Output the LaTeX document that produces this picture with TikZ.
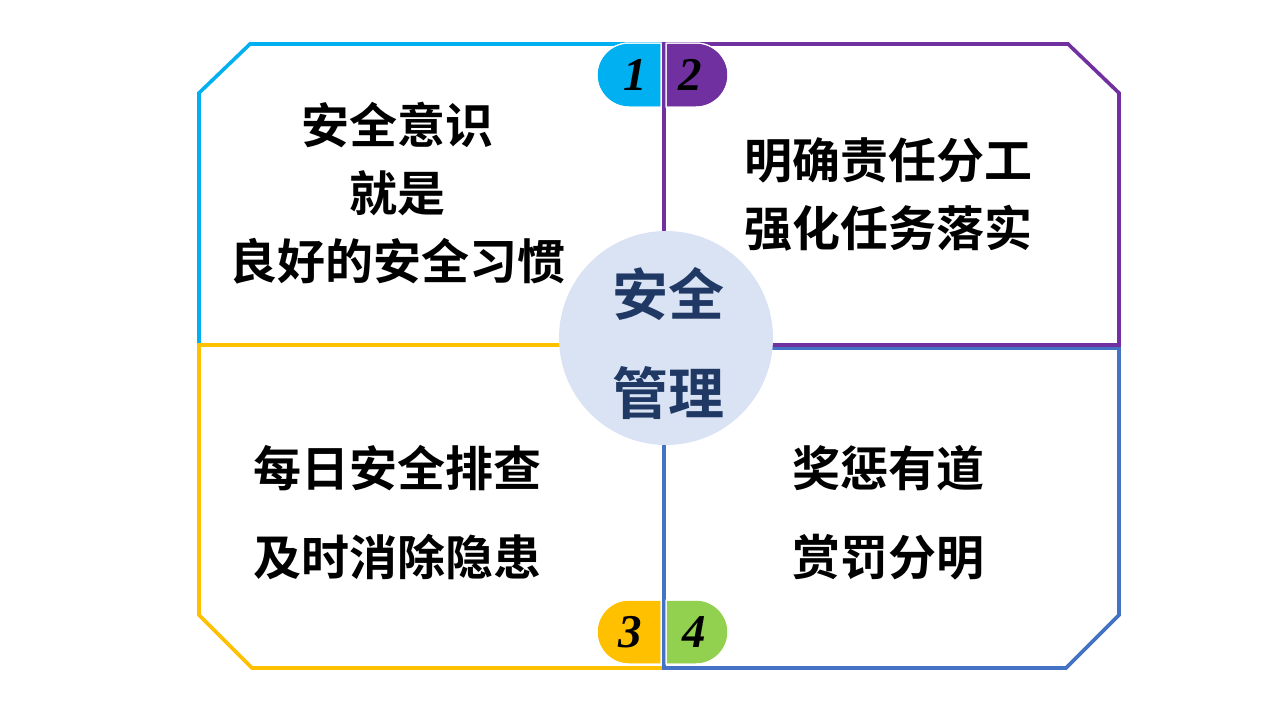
\documentclass[tikz,border=0pt]{standalone}
\usepackage{fontspec}
\newfontfamily\cjk{Noto Sans CJK SC}[BoldFont={Noto Sans CJK SC Bold}]
\newfontfamily\numfont{Liberation Serif}
\definecolor{qcyan}{HTML}{00B0F0}
\definecolor{qpurple}{HTML}{7030A0}
\definecolor{qgold}{HTML}{FFC000}
\definecolor{qblue}{HTML}{4472C4}
\definecolor{qgreen}{HTML}{92D050}
\definecolor{cfill}{HTML}{DAE3F3}
\definecolor{ctext}{HTML}{1F3864}
\begin{document}
\begin{tikzpicture}[x=1pt,y=-1pt,
  quad/.style={line width=3.6pt, line join=miter},
  qtext/.style={font=\cjk\bfseries\fontsize{48}{52}\selectfont, text=black, inner sep=0pt},
  ctxt/.style={font=\cjk\bfseries\fontsize{56}{60}\selectfont, text=ctext, inner sep=0pt},
  badge/.style={draw=white, line width=1pt},
  bnum/.style={font=\numfont\bfseries\itshape\fontsize{47}{49}\selectfont, text=black, inner sep=0pt}]
\useasboundingbox (0,0) rectangle (1280,720);
\fill[white] (0,0) rectangle (1280,720);
% quadrants
\draw[quad, qcyan]   (199,93) -- (250,44) -- (664,44) -- (664,345) -- (199,345) -- cycle;
\draw[quad, qgold]   (199,345) -- (664,345) -- (664,668) -- (252,668) -- (199,615) -- cycle;
\draw[quad, qblue]   (664,348) -- (1119,348) -- (1119,615) -- (1066,668) -- (664,668) -- cycle;
\draw[quad, qpurple] (664,44) -- (1068,44) -- (1119,93) -- (1119,345) -- (664,345) -- cycle;
% centre circle
\node[circle, fill=cfill, minimum size=214pt, inner sep=0pt] (hub) at (666,338) {};
\node[ctxt] (hub1) at (668,294) {安全};
\node[ctxt] (hub2) at (668,393) {管理};
% badges
\fill[badge, fill=qcyan]   (661,43) -- (629,43) arc[start angle=90, end angle=270, radius=32pt] -- (661,107) -- cycle;
\fill[badge, fill=qpurple] (666,43) -- (696,43) arc[start angle=90, end angle=-90, radius=32pt] -- (666,107) -- cycle;
\fill[badge, fill=qgold]   (661,600) -- (629,600) arc[start angle=90, end angle=270, radius=32pt] -- (661,664) -- cycle;
\fill[badge, fill=qgreen]  (666,600) -- (696,600) arc[start angle=90, end angle=-90, radius=32pt] -- (666,664) -- cycle;
\draw[badge] (661,43) -- (629,43) arc[start angle=90, end angle=270, radius=32pt] -- (661,107) -- cycle;
\draw[badge] (666,43) -- (696,43) arc[start angle=90, end angle=-90, radius=32pt] -- (666,107) -- cycle;
\draw[badge] (661,600) -- (629,600) arc[start angle=90, end angle=270, radius=32pt] -- (661,664) -- cycle;
\draw[badge] (666,600) -- (696,600) arc[start angle=90, end angle=-90, radius=32pt] -- (666,664) -- cycle;
\node[bnum] (n1) at (635,75) {1};
\node[bnum] (n2) at (690,75) {2};
\node[bnum] (n3) at (630,632) {3};
\node[bnum] (n4) at (694,632) {4};
% texts
\node[qtext] (tl1) at (397,125) {安全意识};
\node[qtext] (tl2) at (397,193) {就是};
\node[qtext] (tl3) at (397,261) {良好的安全习惯};
\node[qtext] (tr1) at (888,160) {明确责任分工};
\node[qtext] (tr2) at (888,228) {强化任务落实};
\node[qtext] (bl1) at (397,468) {每日安全排查};
\node[qtext] (bl2) at (397,557) {及时消除隐患};
\node[qtext] (br1) at (888,468) {奖惩有道};
\node[qtext] (br2) at (888,557) {赏罚分明};
\end{tikzpicture}
\end{document}
